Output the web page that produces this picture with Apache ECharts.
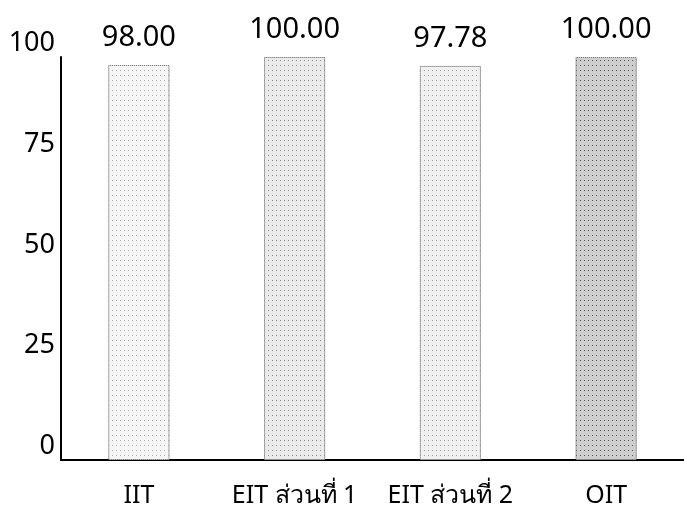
<!DOCTYPE html>
<html>
<head>
<meta charset="utf-8">
<script src="https://cdn.jsdelivr.net/npm/echarts@6/dist/echarts.min.js"></script>
<style>html,body{margin:0;padding:0;background:#fff}#c{width:684px;height:524px}</style>
</head>
<body>
<div id="c"></div>
<script>
const categories = ['IIT', 'EIT ส่วนที่ 1', 'EIT ส่วนที่ 2', 'OIT'];
const values = [98.00, 100.00, 97.78, 100.00];
const yTicks = [0, 25, 50, 75, 100];

const fills = ['#f6f6f6', '#ebebeb', '#f0f0f0', '#cfcfcf'];
const dots = ['rgba(0,0,0,0.3)', 'rgba(0,0,0,0.4)', 'rgba(0,0,0,0.35)', 'rgba(0,0,0,0.6)'];

const chart = echarts.init(document.getElementById('c'), null, {renderer: 'canvas'});
chart.setOption({
  backgroundColor: '#fff',
  animation: false,
  aria: {enabled: true, decal: {show: true}},
  grid: {left: 61, right: 0, top: 57, bottom: 64},
  xAxis: {
    type: 'category',
    data: categories,
    axisLine: {show: true, lineStyle: {color: '#000', width: 2}},
    axisTick: {show: false},
    axisLabel: {interval: 0, color: '#000', fontSize: 25, margin: 23, fontFamily: 'Noto Sans, sans-serif'}
  },
  yAxis: {
    type: 'value',
    min: 0, max: 100, interval: 25,
    splitLine: {show: false},
    axisLine: {show: true, lineStyle: {color: '#000', width: 2}},
    axisTick: {show: false},
    axisLabel: {
      color: '#000', fontSize: 27, margin: 6, verticalAlign: 'bottom',
      fontFamily: 'Noto Sans, sans-serif',
      formatter: v => yTicks.includes(v) ? String(v) : ''
    }
  },
  series: [{
    type: 'bar',
    barWidth: 61,
    data: values.map((v, i) => ({
      value: v,
      itemStyle: {
        color: fills[i],
        borderColor: '#777',
        borderWidth: 1,
        borderType: 'dotted',
        decal: {symbol: 'rect', symbolSize: 1, color: dots[i], backgroundColor: fills[i], dashArrayX: [1, 3], dashArrayY: [1, 4], rotation: 0}
      }
    })),
    label: {
      show: true, position: 'top', distance: 13,
      color: '#000', fontSize: 29, fontFamily: 'Noto Sans, sans-serif',
      formatter: p => p.value.toFixed(2)
    }
  }]
});
</script>
</body>
</html>
